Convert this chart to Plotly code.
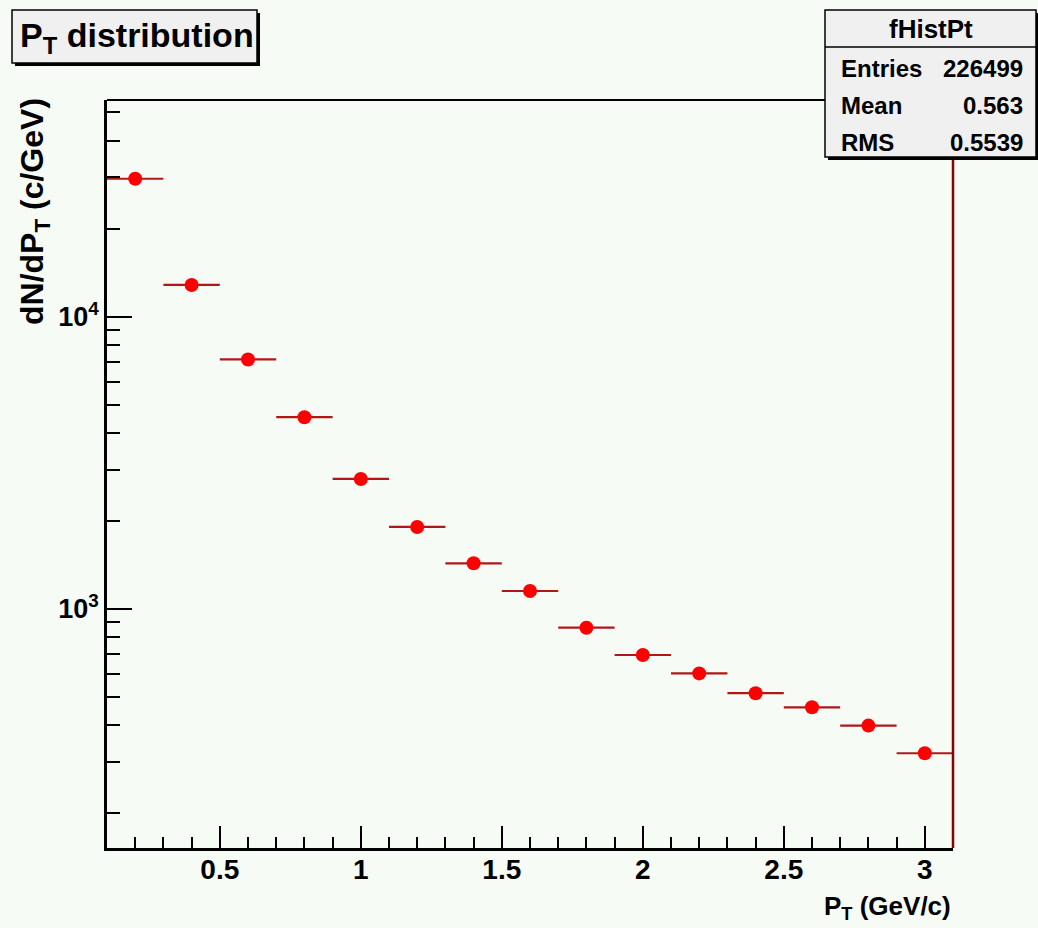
import plotly.graph_objects as go

# ---------------- data ----------------
pt_centers = [0.2, 0.4, 0.6, 0.8, 1.0, 1.2, 1.4, 1.6, 1.8, 2.0, 2.2, 2.4, 2.6, 2.8, 3.0]
dn_dpt = [29640, 12840, 7140, 4530, 2785, 1908, 1433, 1152, 863, 696, 602, 515, 461, 399, 321]
bin_half_width = [0.1] * len(pt_centers)

x_tick_vals = [0.5, 1.0, 1.5, 2.0, 2.5, 3.0]
x_tick_text = ["0.5", "1", "1.5", "2", "2.5", "3"]
y_tick_vals = [1000, 10000]
y_tick_text = ["10<sup>3</sup>", "10<sup>4</sup>"]

stats_name = "fHistPt"
stats_labels = ["Entries", "Mean", "RMS"]
stats_values = ["226499", "0.563", "0.5539"]

title_text = "P<sub>T</sub> distribution"
x_title = "P<sub>T</sub> (GeV/c)"
y_title = "dN/dP<sub>T</sub> (c/GeV)"

# ---------------- layout geometry (pixels) ----------------
W, H = 1038, 928
L, R, T, B = 107, 953, 100, 848
X_RANGE = [0.1, 3.1]
Y_RANGE = [2.1823, 4.7413]

def px(x):
    return (x - L) / (R - L)

def py(y):
    return (B - y) / (B - T)

FONT = "Liberation Sans, Arial, sans-serif"
BG = "#f6fbf6"
BAR = "#b01818"

x_minor = [round(0.1 * i, 1) for i in range(2, 31) if round(0.1 * i, 1) not in x_tick_vals]
y_minor = [m * d for d in (100, 1000, 10000) for m in range(2, 10) if 150 < m * d < 55000]

fig = go.Figure()
fig.add_trace(go.Scatter(
    x=pt_centers, y=dn_dpt, mode="markers",
    marker=dict(symbol="circle", size=14, color="#ff0000", line=dict(width=0)),
    error_x=dict(type="data", array=bin_half_width, symmetric=True,
                 color=BAR, thickness=2.2, width=0),
    showlegend=False,
))

shapes = []
shapes.append(dict(type="line", xref="paper", yref="paper", x0=0, x1=1, y0=1, y1=1,
                   line=dict(color="black", width=2)))
shapes.append(dict(type="line", xref="paper", yref="paper", x0=1, x1=1, y0=0, y1=1,
                   line=dict(color="#8b0000", width=2.5)))
# title box with shadow
shapes.append(dict(type="rect", xref="paper", yref="paper",
                   x0=px(15), x1=px(260), y0=py(66), y1=py(13),
                   fillcolor="black", line=dict(width=0)))
shapes.append(dict(type="rect", xref="paper", yref="paper",
                   x0=px(12), x1=px(257), y0=py(63), y1=py(10),
                   fillcolor="#f0f0f0", line=dict(color="black", width=1.5)))
# stats box with shadow
shapes.append(dict(type="rect", xref="paper", yref="paper",
                   x0=px(828), x1=px(1040), y0=py(160), y1=py(13),
                   fillcolor="black", line=dict(width=0)))
shapes.append(dict(type="rect", xref="paper", yref="paper",
                   x0=px(825), x1=px(1036), y0=py(157), y1=py(10),
                   fillcolor="#f0f0f0", line=dict(color="black", width=1.5)))
shapes.append(dict(type="line", xref="paper", yref="paper",
                   x0=px(825), x1=px(1036), y0=py(47), y1=py(47),
                   line=dict(color="black", width=1.5)))

annotations = []
annotations.append(dict(text="<b>" + title_text + "</b>", xref="paper", yref="paper",
                        x=px(18), y=py(37), xanchor="left", yanchor="middle",
                        showarrow=False, font=dict(family=FONT, size=34, color="black")))
annotations.append(dict(text="<b>" + stats_name + "</b>", xref="paper", yref="paper",
                        x=px(931), y=py(29), xanchor="center", yanchor="middle",
                        showarrow=False, font=dict(family=FONT, size=26, color="black")))
row_y = [68, 105, 142]
for lab, val, yy in zip(stats_labels, stats_values, row_y):
    annotations.append(dict(text="<b>" + lab + "</b>", xref="paper", yref="paper",
                            x=px(839), y=py(yy), xanchor="left", yanchor="middle",
                            showarrow=False, font=dict(family=FONT, size=24, color="black")))
    annotations.append(dict(text="<b>" + val + "</b>", xref="paper", yref="paper",
                            x=px(1025), y=py(yy), xanchor="right", yanchor="middle",
                            showarrow=False, font=dict(family=FONT, size=24, color="black")))
annotations.append(dict(text="<b>" + x_title + "</b>", xref="paper", yref="paper",
                        x=1.0, y=py(907), xanchor="right", yanchor="middle",
                        showarrow=False, font=dict(family=FONT, size=26, color="black")))
annotations.append(dict(text="<b>" + y_title + "</b>", xref="paper", yref="paper",
                        x=px(34), y=py(212), xanchor="center", yanchor="middle",
                        textangle=-90, showarrow=False,
                        font=dict(family=FONT, size=32, color="black")))

fig.update_layout(
    width=W, height=H,
    margin=dict(l=L, r=W - R, t=T, b=H - B, pad=0),
    paper_bgcolor=BG, plot_bgcolor=BG,
    shapes=shapes, annotations=annotations,
    xaxis=dict(
        range=X_RANGE, showgrid=False, zeroline=False,
        showline=True, linecolor="black", linewidth=2.5,
        ticks="inside", ticklen=22, tickwidth=2, tickcolor="black",
        tickvals=x_tick_vals, ticktext=x_tick_text, ticklabelstandoff=-5,
        tickfont=dict(family=FONT, size=28, color="black", weight="bold"),
        minor=dict(tickvals=x_minor, ticks="inside", ticklen=11, tickwidth=2, tickcolor="black"),
    ),
    yaxis=dict(
        type="log", range=Y_RANGE, showgrid=False, zeroline=False,
        showline=True, linecolor="black", linewidth=2.5,
        ticks="inside", ticklen=25, tickwidth=2, tickcolor="black",
        tickvals=y_tick_vals, ticktext=y_tick_text,
        tickfont=dict(family=FONT, size=27, color="black", weight="bold"),
        minor=dict(tickvals=y_minor, ticks="inside", ticklen=13, tickwidth=2, tickcolor="black"),
    ),
)

fig.write_html(
    "out.html",
    config={"displayModeBar": False},
    post_script="document.body.style.margin='0';document.body.style.background='%s';" % BG,
)
